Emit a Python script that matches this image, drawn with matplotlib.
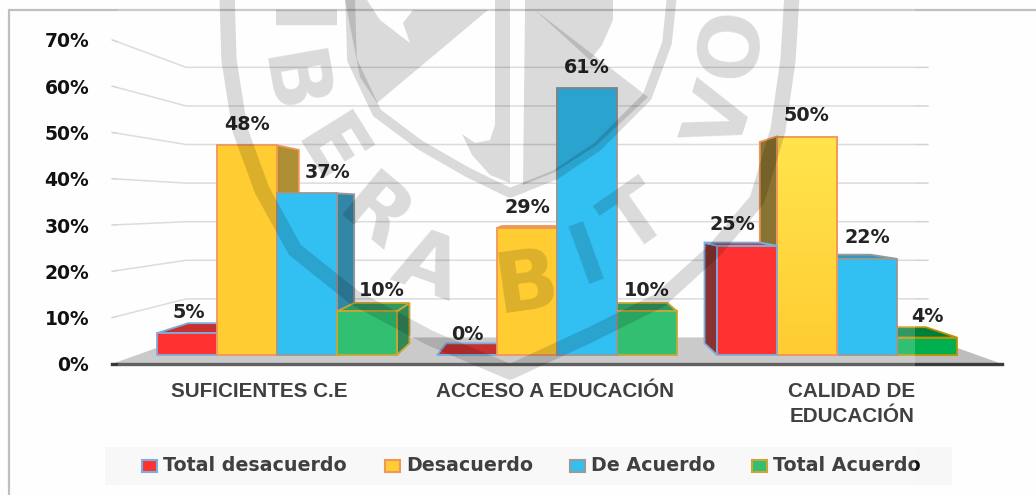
import numpy as np
import matplotlib
matplotlib.use("Agg")
import matplotlib.pyplot as plt
from matplotlib.patches import Polygon, Rectangle
from matplotlib.colors import LinearSegmentedColormap

W, H = 1036, 495

categories = ["SUFICIENTES C.E", "ACCESO A EDUCACIÓN", "CALIDAD DE\nEDUCACIÓN"]
series_names = ["Total desacuerdo", "Desacuerdo", "De Acuerdo", "Total Acuerdo"]
total_desacuerdo = [5, 0, 25]
desacuerdo = [48, 29, 50]
de_acuerdo = [37, 61, 22]
total_acuerdo = [10, 10, 4]
y_ticks = [0, 10, 20, 30, 40, 50, 60, 70]

series = [total_desacuerdo, desacuerdo, de_acuerdo, total_acuerdo]
face_colors = ["#FF0000", "#FFC000", "#00B0F0", "#00B050"]
edge_colors = ["#5B9BD5", "#ED7D31", "#808080", "#BF9000"]

# pixels of the front plane of the bars
PX_X0, PX_PER_CAT = 277, 280
PX_Y0, PX_PER_PCT = 355, 4.37
BAR_W = 60 / 280

# perspective: everything runs to this point (data units)
VP_X, VP_Y = 1.0, 34.3
S_WALL_FRONT, S_WALL_BACK = 1.059, 0.883
S_BAR_BACK = 0.922


def project(x, y, s=1.0):
    return VP_X + (x - VP_X) * s, VP_Y + (y - VP_Y) * s


def shade(color, f):
    return tuple(c * f for c in matplotlib.colors.to_rgb(color))


fig = plt.figure(figsize=(W / 100, H / 100), dpi=100, facecolor="#FEFEFE")

# pixel axes behind the chart: frame and legend band
bg = fig.add_axes([0, 0, 1, 1], zorder=0)
bg.set_xlim(0, W)
bg.set_ylim(H, 0)
bg.axis("off")
bg.plot([9, 9, W], [H, 10, 10], color="#BFBFBF", lw=1.6, solid_joinstyle="miter")
bg.add_patch(Rectangle((105, 447), 847, 38, fc="#F7F7F7", ec="none"))

# chart axes: x is category index, y is percent
ax = fig.add_axes([0, 0, 1, 1], zorder=1)
ax.patch.set_visible(False)
ax.axis("off")
xlim = (-PX_X0 / PX_PER_CAT, (W - PX_X0) / PX_PER_CAT)
ylim = ((PX_Y0 - H) / PX_PER_PCT, PX_Y0 / PX_PER_PCT)
ax.set_xlim(xlim)
ax.set_ylim(ylim)

x_lo, x_hi = -0.5, 2.5

# walls
for v in y_ticks[1:]:
    a = project(x_lo, v, S_WALL_FRONT)
    b = project(x_lo, v, S_WALL_BACK)
    c = project(x_hi, v, S_WALL_BACK)
    ax.plot([a[0], b[0], c[0]], [a[1], b[1], c[1]], color="#D4D4D4", lw=1.1, zorder=1)

# floor
floor = [project(x_lo, 0, S_WALL_FRONT), project(x_lo, 0, S_WALL_BACK),
         project(x_hi, 0, S_WALL_BACK), project(x_hi, 0, S_WALL_FRONT)]
ax.add_patch(Polygon(floor, fc="#BDBDBD", ec="none", zorder=2))
ax.plot([floor[0][0], floor[3][0]], [floor[0][1], floor[3][1]], color="#3A3A3A", lw=2.4, zorder=3)

# tick labels sit on the front of the wall
for v in y_ticks:
    px, py = project(x_lo, v, S_WALL_FRONT)
    ax.annotate(f"{v}%", (px, py), xytext=(-23, -2), textcoords="offset pixels",
                ha="right", va="center", fontsize=13.5, fontweight="bold",
                color="#111111", zorder=30)

# bars, the ones furthest from the vanishing point go first
bars = []
for i in range(len(categories)):
    for j in range(len(series)):
        left = i + (j - 2) * BAR_W
        bars.append((abs(left + BAR_W / 2 - VP_X), left, j, series[j][i], i))
bars.sort(key=lambda b: -b[0])

# the tall yellow bar of the last group fades upwards
fade = LinearSegmentedColormap.from_list("fade", ["#FFC000", "#FFDE20"])

z = 4.0
for _, left, j, val, i in bars:
    right = left + BAR_W
    fc, ec = face_colors[j], edge_colors[j]
    top_f = shade(fc, 0.72)
    back = lambda x, y: project(x, y, S_BAR_BACK)
    lw = 1.3
    if left + BAR_W / 2 > VP_X:
        side = [(left, 0), (left, val), back(left, val), back(left, 0)]
        side_c = shade(fc, 0.42)
    else:
        side = [(right, 0), (right, val), back(right, val), back(right, 0)]
        side_c = shade(fc, 0.6)
    ax.add_patch(Polygon(side, fc=side_c, ec=ec, lw=lw, zorder=z))
    if val < VP_Y:
        top_face = [(left, val), (right, val), back(right, val), back(left, val)]
        ax.add_patch(Polygon(top_face, fc=top_f, ec=ec, lw=lw, zorder=z + 0.1))
    ax.add_patch(Rectangle((left, 0), BAR_W, val, fc=fc, ec=ec, lw=lw, zorder=z + 0.2))
    if i == 2 and j == 1:
        ax.imshow(np.linspace(1, 0, 64).reshape(-1, 1), extent=(left, right, 0, val), aspect="auto",
                  cmap=fade, zorder=z + 0.3)
        ax.add_patch(Rectangle((left, 0), BAR_W, val, fc="none", ec=ec, lw=lw, zorder=z + 0.4))
    z += 0.5
ax.set_xlim(xlim)
ax.set_ylim(ylim)

# washed panel over everything up to here, most of the picture has it
ax.add_patch(Rectangle((xlim[0] + 118 / PX_PER_CAT, ylim[0]), 797 / PX_PER_CAT, ylim[1] - ylim[0],
                       fc="white", ec="none", alpha=0.2, zorder=15))

# data labels, pixel nudge where the label was moved aside in the original
label_dx = [[2, 0, 21, 15], [0, 0, 0, 0], [-15, 0, 0, 0]]
for i in range(len(categories)):
    for j in range(len(series)):
        cx = i + (j - 1.5) * BAR_W
        ax.annotate(f"{series[j][i]}%", (cx, series[j][i]),
                    xytext=(label_dx[i][j], 21), textcoords="offset pixels",
                    ha="center", va="center", fontsize=13.8, fontweight="bold",
                    color="#242424", zorder=20)

# category labels
cat_x = [259, 555, 852]
for name, cx in zip(categories, cat_x):
    bg.text(cx, 382, name, ha="center", va="top", fontsize=14.9, fontweight="bold",
            family="Liberation Sans", color="#111111", linespacing=1.42)

# legend
mark_x = [142, 385, 570, 752]
for name, mx, fc, ec in zip(series_names, mark_x, face_colors, edge_colors):
    bg.add_patch(Rectangle((mx, 460), 15, 12, fc=fc, ec=ec, lw=1.5))
    bg.text(mx + 21, 465.5, name, ha="left", va="center", fontsize=13.7,
            fontweight="bold", color="#111111")

# top layer: the watermark
top = fig.add_axes([0, 0, 1, 1], zorder=3)
top.patch.set_visible(False)
top.set_xlim(0, W)
top.set_ylim(H, 0)
top.axis("off")

wm = dict(color="black", alpha=0.14)
outer_x = [227, 229, 240, 262, 295, 355, 430, 510, 590, 660, 715, 757, 778, 788, 792]
outer_y = [-5, 60, 130, 190, 250, 298, 338, 372, 335, 300, 250, 200, 130, 60, -5]
top.plot(outer_x, outer_y, lw=11, solid_joinstyle="round", **wm)
inner_x = [350, 352, 377, 420, 467, 510, 555, 597, 647, 667, 672]
inner_y = [-5, 60, 113, 145, 172, 193, 175, 147, 97, 43, -5]
top.plot(inner_x, inner_y, lw=7, solid_joinstyle="round", **wm)

fills = [
    [(345, 0), (367, 0), (380, 20), (410, 43), (403, 23), (413, 10), (488, 10), (377, 103), (360, 77)],
    [(495, 0), (510, 0), (510, 183), (490, 175), (472, 155), (462, 134), (475, 143), (490, 140), (495, 125)],
    [(525, 10), (535, 10), (648, 97), (597, 145), (555, 172), (523, 185)],
    [(525, 0), (613, 0), (613, 20), (602, 45), (590, 60), (535, 10), (525, 10)],
]
for pts in fills:
    top.add_patch(Polygon(pts, fc="black", ec="none", alpha=0.14))

letters = ["I", "B", "E", "R", "A", "B", "I", "T", "V", "O"]
letter_x = [291, 288, 327, 373, 427, 527, 588, 637, 723, 733]
letter_y = [24, 84, 152, 217, 268, 285, 257, 220, 118, 43]
letter_rot = [-90, -80, -58, -40, -20, 8, 20, 35, 72, 85]
for s, lx, ly, r in zip(letters, letter_x, letter_y, letter_rot):
    top.text(lx, ly, s, ha="center", va="center", rotation=r, rotation_mode="anchor",
             fontsize=60, fontweight="bold", family="Liberation Sans Narrow", **wm)

fig.savefig("out.png", dpi=100)
